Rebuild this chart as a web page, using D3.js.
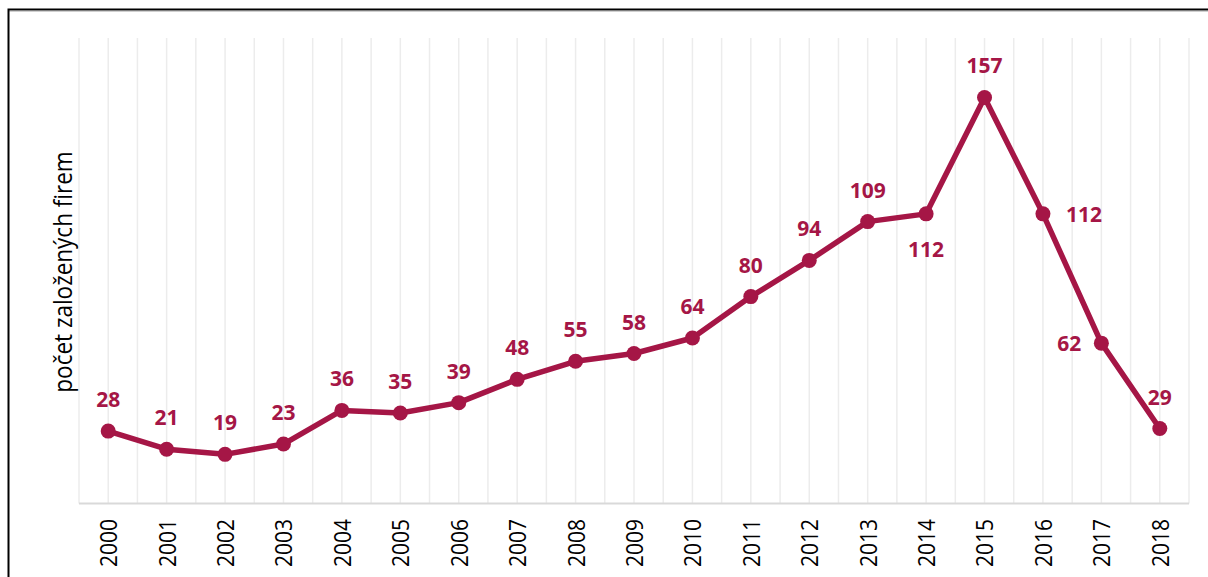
<!DOCTYPE html>
<meta charset="utf-8">
<script src="https://d3js.org/d3.v7.min.js"></script>
<style>
  body { margin: 0; background: #fff; }
  text { font-family: "Open Sans", sans-serif; }
</style>
<div id="my_dataviz"></div>
<script>
// data
var years = ["2000","2001","2002","2003","2004","2005","2006","2007","2008","2009",
             "2010","2011","2012","2013","2014","2015","2016","2017","2018"];
var firms = [28, 21, 19, 23, 36, 35, 39, 48, 55, 58, 64, 80, 94, 109, 112, 157, 112, 62, 29];
// where each data label sits relative to its point
var labelPos = ["above","above","above","above","above","above","above","above","above","above",
                "above","above","above","above","below","above","right","left","above"];
var yTitle = "počet založených firem";

var W = 1208, H = 577;
var color = "#a51646";

var svg = d3.select("#my_dataviz")
  .append("svg")
    .attr("width", W)
    .attr("height", H);

svg.append("rect").attr("width", W).attr("height", H).attr("fill", "#fff");

// outer frame (cut by the picture edges)
svg.append("line").attr("x1", 8).attr("x2", W + 5).attr("y1", 11.5).attr("y2", 11.5)
  .attr("stroke", "#d0d0d0").attr("stroke-width", 1);
svg.append("path")
  .attr("d", "M" + (W + 5) + ",9.5H8.5V" + (H + 5))
  .attr("fill", "none").attr("stroke", "#000").attr("stroke-width", 2);

var x = d3.scalePoint()
  .domain(years)
  .range([79, 1189])
  .padding(0.5);
var step = x.step();

var y = d3.scaleLinear()
  .domain([0, 180])
  .range([503.5, 38]);

// vertical gridlines: at each category and between categories
var gridX = [];
for (var i = 0; i <= years.length; i++) gridX.push(x.range()[0] + i * step);
years.forEach(function(d) { gridX.push(x(d)); });

svg.append("g")
  .selectAll("line")
  .data(gridX)
  .enter()
  .append("line")
    .attr("x1", function(d) { return d; })
    .attr("x2", function(d) { return d; })
    .attr("y1", y(180))
    .attr("y2", y(0))
    .attr("stroke", "#ececec")
    .attr("stroke-width", 1.5);

// baseline
svg.append("line")
  .attr("x1", x.range()[0]).attr("x2", x.range()[1])
  .attr("y1", y(0)).attr("y2", y(0))
  .attr("stroke", "#d9d9d9").attr("stroke-width", 2);

// x tick labels, rotated
svg.append("g")
  .selectAll("text")
  .data(years)
  .enter()
  .append("text")
    .attr("transform", function(d) { return "translate(" + x(d) + ",519) rotate(-90) scale(1,1.12)"; })
    .attr("text-anchor", "end")
    .attr("dominant-baseline", "central")
    .attr("font-size", "21px")
    .attr("fill", "#000")
    .text(function(d) { return d; });

// y axis title
svg.append("text")
  .attr("transform", "translate(63,272) rotate(-90) scale(1,1.1)")
  .attr("text-anchor", "middle")
  .attr("dominant-baseline", "central")
  .attr("font-size", "22.5px")
  .attr("fill", "#000")
  .text(yTitle);

var data = years.map(function(d, i) { return {year: d, value: firms[i], pos: labelPos[i]}; });

// the line
svg.append("path")
  .datum(data)
  .attr("fill", "none")
  .attr("stroke", color)
  .attr("stroke-width", 5.5)
  .attr("stroke-linejoin", "round")
  .attr("d", d3.line()
    .x(function(d) { return x(d.year); })
    .y(function(d) { return y(d.value); }));

// markers
svg.append("g")
  .selectAll("circle")
  .data(data)
  .enter()
  .append("circle")
    .attr("cx", function(d) { return x(d.year); })
    .attr("cy", function(d) { return y(d.value); })
    .attr("r", 7.5)
    .attr("fill", color);

// data labels
svg.append("g")
  .selectAll("text")
  .data(data)
  .enter()
  .append("text")
    .attr("x", function(d) {
      if (d.pos == "right") return x(d.year) + 23;
      if (d.pos == "left") return x(d.year) - 20;
      return x(d.year);
    })
    .attr("y", function(d) {
      if (d.pos == "above") return y(d.value) - 32;
      if (d.pos == "below") return y(d.value) + 35;
      return y(d.value);
    })
    .attr("text-anchor", function(d) {
      if (d.pos == "right") return "start";
      if (d.pos == "left") return "end";
      return "middle";
    })
    .attr("dominant-baseline", "central")
    .attr("font-size", "21px")
    .attr("font-weight", "bold")
    .attr("fill", color)
    .text(function(d) { return d.value; });
</script>
